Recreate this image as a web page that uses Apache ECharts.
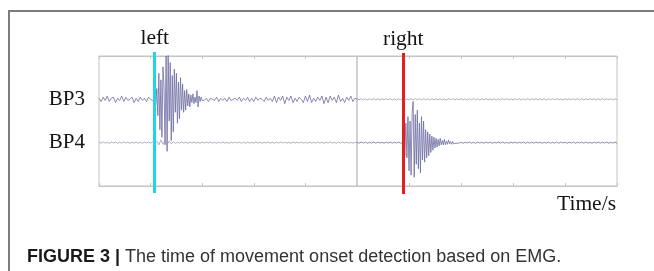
<!DOCTYPE html>
<html>
<head>
<meta charset="utf-8">
<script src="https://cdn.jsdelivr.net/npm/echarts@6/dist/echarts.min.js"></script>
<style>
html, body { margin: 0; padding: 0; background: #fff; }
#chart { width: 654px; height: 271px; }
</style>
</head>
<body>
<div id="chart"></div>
<script>
// EMG traces, time in s (0..5 per panel). Quiet parts are sampled every
// 0.04 s, the bursts every 0.02 s.
var STEP = 0.04;
var BURST_STEP = 0.02;
var channels = ['BP3', 'BP4'];
var channelOffsets = [20, -20];

// left panel, BP3: 0..1.08 s, burst 1.10..2.00 s, then 2.04..5.00 s
var leftBP3Pre = [
  1, -2, 2, -1, 3, -2, 1, 2, -3, 1,
  -1, 3, -2, 2, -1, 0, 2, -3, 1, -2,
  2, -1, 1, -2, 2, 0, -1, 1
];
var leftBP3Burst = [
  -5, 10, -15, 24, -28, 18, -35, 30, 12, -42,
  40, -48, 44, -20, 34, -38, 22, -30, 28, -12,
  24, -22, 16, -18, 20, -10, 14, -12, 8, -10,
  9, -6, 5, -7, 4, -3, 5, -4, 2, -3,
  8, -7, 3, -2, 2, -1
];
var leftBP3Post = [
  -1, 1, -2, 1, 0, -1, 2, -2, 1,
  -1, 1, -2, 2, -1, 0, 1, -1, 2, -2,
  1, -1, 2, -2, 1, -2, 2, -1, 1, 0,
  -2, 2, -1, 1, -2, 3, -3, 2, -1, 3,
  -4, 2, -1, 3, -3, 1, -2, 2, 0, -3,
  3, -2, 4, -3, 1, -2, 2, -1, 3, -4,
  2, -3, 3, -1, 2, -3, 4, -2, 1, -3,
  2, -1, 3, -2, 1, 0
];
// left panel, BP4: 0..5 s
var leftBP4 = [
  0.5, -0.5, 0.8, -0.4, 0.3, -0.7, 0.6, -0.3, 0.5, -0.6,
  0.4, -0.5, 0.7, -0.3, 0.5, -0.6, 0.3, -0.4, 0.6, -0.5,
  0.4, -0.6, 0.5, -0.3, 0.6, -0.4, 0.5, -0.5,
  1.5, -2, 2.5, -1.5, 3, -2, 1.5, -1, 0.8, -0.6,
  0.5, -0.5, 0.7, -0.4, 0.5, -0.6, 0.4, -0.3, 0.6, -0.5,
  0.4, -0.6, 0.5, -0.4, 0.6, -0.3, 0.5, -0.5, 0.4, -0.6,
  0.5, -0.4, 0.7, -0.5, 0.3, -0.6, 0.5, -0.4, 0.6, -0.3,
  0.5, -0.6, 0.4, -0.5, 0.6, -0.4, 0.3, -0.5, 0.7, -0.4,
  0.5, -0.6, 0.4, -0.3, 0.6, -0.5, 0.4, -0.6, 0.5, -0.4,
  0.6, -0.3, 0.5, -0.5, 0.4, -0.6, 0.7, -0.4, 0.5, -0.3,
  0.6, -0.5, 0.4, -0.6, 0.5, -0.4, 0.3, -0.5, 0.6, -0.4,
  0.5, -0.6, 0.4, -0.3, 0.7, -0.5, 0.4, -0.6, 0.5, -0.4,
  0.6, -0.3, 0.5, -0.5, 0.4, -0.6, 0.5, -0.4
];
// right panel, BP3: 0..5 s
var rightBP3 = [
  0.5, -0.4, 0.6, -0.5, 0.3, -0.6, 0.5, -0.3, 0.6, -0.4,
  0.4, -0.6, 0.5, -0.4, 0.7, -0.3, 0.5, -0.5, 0.4, -0.6,
  0.6, -0.4, 0.5, -0.5, 0.3, -0.6, 0.5, -0.4, 0.6, -0.3,
  0.4, -0.5, 0.6, -0.4, 0.5, -0.6, 0.4, -0.3, 0.6, -0.5,
  0.5, -0.4, 0.3, -0.6, 0.6, -0.4, 0.5, -0.5, 0.4, -0.3,
  0.6, -0.5, 0.4, -0.6, 0.5, -0.4, 0.7, -0.3, 0.5, -0.6,
  0.4, -0.5, 0.6, -0.4, 0.3, -0.5, 0.5, -0.6, 0.4, -0.4,
  0.6, -0.3, 0.5, -0.5, 0.4, -0.6, 0.5, -0.4, 0.6, -0.5,
  0.3, -0.4, 0.6, -0.6, 0.5, -0.3, 0.4, -0.5, 0.6, -0.4,
  0.5, -0.6, 0.4, -0.3, 0.6, -0.5, 0.5, -0.4, 0.3, -0.6,
  0.6, -0.4, 0.5, -0.5, 0.4, -0.3, 0.6, -0.6, 0.5, -0.4,
  0.4, -0.5, 0.6, -0.3, 0.5, -0.6, 0.4, -0.4, 0.6, -0.5,
  0.5, -0.3, 0.4, -0.6, 0.5, -0.4
];
// right panel, BP4: 0..0.88 s, burst 0.90..1.90 s, then 1.92..5.00 s
var rightBP4Pre = [
  0.4, -0.5, 0.6, -0.4, 0.5, -0.6, 0.3, -0.4, 0.6, -0.5,
  0.5, -0.3, 0.4, -0.6, 0.5, -0.4, 0.6, -0.5, 0.4, -0.3,
  0.5, -0.6, 0.4
];
var rightBP4Burst = [
  6, -12, 18, -14, 24, -26, 20, -30, 28, 38,
  -32, 26, -20, 30, -24, 18, -28, 24, -16, 20,
  -18, 12, -14, 10, -12, 8, -9, 6, -7, 5,
  -5, 4, -4, 3, -3, 4, -2, 2, -2, 3,
  -2, 1.5, -1.5, 2.5, -1, 1, -1.5, 1, -1, 0.8,
  -0.6
];
var rightBP4Post = [
  0.6, -0.4, 0.5, -0.6, 0.4, -0.3, 0.6, -0.5, 0.4, -0.6,
  0.5, -0.4, 0.3, -0.5, 0.6, -0.4, 0.5, -0.6, 0.4, -0.3,
  0.6, -0.5, 0.5, -0.4, 0.3, -0.6, 0.6, -0.4, 0.5, -0.5,
  0.4, -0.3, 0.6, -0.6, 0.5, -0.4, 0.4, -0.5, 0.6, -0.3,
  0.5, -0.6, 0.4, -0.4, 0.6, -0.5, 0.3, -0.4, 0.5, -0.6,
  0.6, -0.3, 0.4, -0.5, 0.5, -0.4, 0.6, -0.6, 0.4, -0.3,
  0.5, -0.5, 0.6, -0.4, 0.3, -0.6, 0.5, -0.4, 0.6, -0.5,
  0.4, -0.3, 0.5, -0.6, 0.4, -0.4, 0.6, -0.5
];

// movement onset detected in each panel
var onsetTimes = [1.085, 0.885];
var onsetLabels = ['left', 'right'];

var SERIF = '"Liberation Serif", "DejaVu Serif", serif';
var SANS = '"Liberation Sans", Arial, sans-serif';

function seg(start, step, values, offset) {
  return values.map(function (v, i) {
    return [+(start + i * step).toFixed(2), v + offset];
  });
}

function traceSeries(points, ch, panel, color) {
  return {
    type: 'line',
    name: channels[ch],
    xAxisIndex: panel,
    yAxisIndex: panel,
    data: points,
    showSymbol: false,
    silent: true,
    lineStyle: { width: 0.8, color: color }
  };
}

function onsetSeries(panel, color) {
  return {
    type: 'line',
    xAxisIndex: panel + 2,
    yAxisIndex: panel + 2,
    data: [],
    silent: true,
    markLine: {
      silent: true,
      symbol: 'none',
      animation: false,
      lineStyle: { color: color, width: 3, type: 'solid', opacity: 1 },
      label: {
        show: true,
        position: 'end',
        distance: 3,
        formatter: onsetLabels[panel],
        fontFamily: SERIF,
        fontSize: 21.5,
        color: '#141414'
      },
      emphasis: { disabled: true },
      data: [{ xAxis: onsetTimes[panel] }]
    }
  };
}

var o3 = channelOffsets[0], o4 = channelOffsets[1];
var leftBP3Points = seg(0, STEP, leftBP3Pre, o3)
  .concat(seg(1.10, BURST_STEP, leftBP3Burst, o3))
  .concat(seg(2.04, STEP, leftBP3Post, o3));
var rightBP4Points = seg(0, STEP, rightBP4Pre, o4)
  .concat(seg(0.90, BURST_STEP, rightBP4Burst, o4))
  .concat(seg(1.92, STEP, rightBP4Post, o4));

var chart = echarts.init(document.getElementById('chart'));

function xAxisFor(grid, pos, show) {
  return {
    type: 'value', min: 0, max: 5, interval: 1,
    gridIndex: grid,
    position: pos,
    show: show,
    axisLine: { show: true, onZero: false, lineStyle: { color: '#c4c4c4', width: 1 } },
    axisTick: { show: true, inside: true, length: 3, lineStyle: { color: '#c4c4c4' } },
    axisLabel: { show: false },
    splitLine: { show: false }
  };
}

var option = {
  animation: false,
  backgroundColor: '#fff',
  graphic: [{
    type: 'polyline',
    shape: { points: [[9, 271], [9, 11], [654, 11]] },
    style: { stroke: '#7c7c7c', lineWidth: 2, fill: null },
    silent: true
  }],
  title: [
    {
      text: 'Time/s',
      right: 33,
      top: 188,
      textStyle: { fontFamily: SERIF, fontSize: 21.5, fontWeight: 'normal', color: '#141414' }
    },
    {
      text: '{b|FIGURE 3 |} The time of movement onset detection based on EMG.',
      left: 22,
      top: 243,
      textStyle: {
        fontFamily: SANS, fontSize: 18, fontWeight: 'normal', color: '#333',
        rich: { b: { fontFamily: SANS, fontSize: 18, fontWeight: 'bold', color: '#1a1a1a' } }
      }
    }
  ],
  grid: [
    { left: 99, top: 56, width: 258, height: 130, show: true, borderColor: '#c4c4c4', borderWidth: 1 },
    { left: 357, top: 56, width: 260, height: 130, show: true, borderColor: '#c4c4c4', borderWidth: 1 },
    { left: 99, top: 52, width: 258, height: 141 },
    { left: 357, top: 53, width: 260, height: 141 }
  ],
  xAxis: [
    xAxisFor(0, 'bottom', true),
    xAxisFor(1, 'bottom', true),
    xAxisFor(2, 'bottom', false),
    xAxisFor(3, 'bottom', false),
    xAxisFor(0, 'top', true),
    xAxisFor(1, 'top', true)
  ],
  yAxis: [
    {
      gridIndex: 0, type: 'value', min: -60, max: 60, interval: 20,
      axisLine: { show: false }, axisTick: { show: false }, splitLine: { show: false },
      axisLabel: {
        margin: 14, fontFamily: SERIF, fontSize: 21, color: '#141414',
        formatter: function (v) {
          var k = channelOffsets.indexOf(v);
          return k >= 0 ? channels[k] : '';
        }
      }
    },
    { gridIndex: 1, type: 'value', min: -60, max: 60, show: false, splitLine: { show: false } },
    { gridIndex: 2, type: 'value', min: 0, max: 1, show: false },
    { gridIndex: 3, type: 'value', min: 0, max: 1, show: false }
  ],
  series: [
    traceSeries(leftBP3Points, 0, 0, '#6c6ca2'),
    traceSeries(seg(0, STEP, leftBP4, o4), 1, 0, '#9c9cba'),
    traceSeries(seg(0, STEP, rightBP3, o3), 0, 1, '#9c9cba'),
    traceSeries(rightBP4Points, 1, 1, '#6c6ca2'),
    onsetSeries(0, '#1fd6e6'),
    onsetSeries(1, '#e2201c')
  ]
};

chart.setOption(option);
window.addEventListener('resize', function () {
  chart.resize();
});
</script>
</body>
</html>
